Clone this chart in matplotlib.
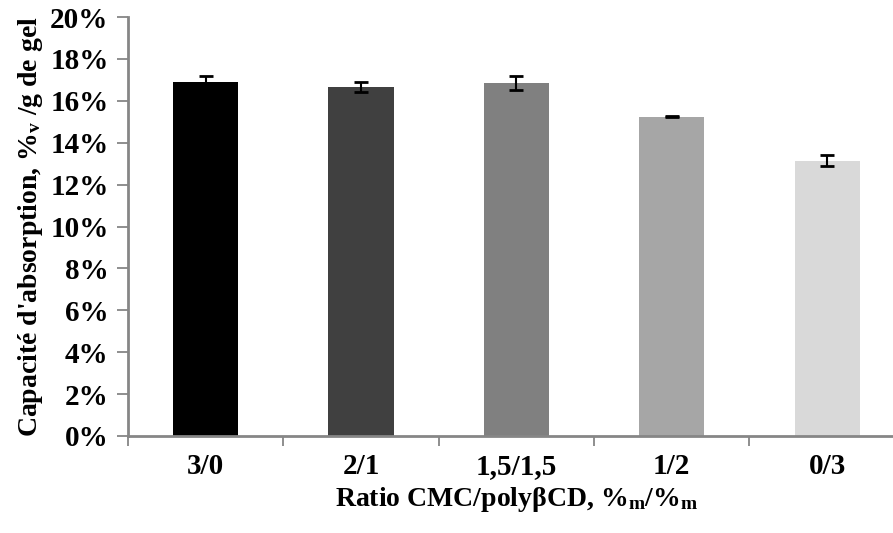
# Capacité d'absorption vs ratio CMC/polyβCD
import numpy as np
import matplotlib.pyplot as plt
from matplotlib.ticker import FuncFormatter

plt.rcParams['font.family'] = ['Liberation Serif', 'DejaVu Serif']
plt.rcParams['font.weight'] = 'bold'
plt.rcParams['axes.labelweight'] = 'bold'
plt.rcParams['mathtext.fontset'] = 'custom'
plt.rcParams['mathtext.rm'] = 'Liberation Serif:bold'
plt.rcParams['mathtext.it'] = 'Liberation Serif:bold'
plt.rcParams['mathtext.bf'] = 'Liberation Serif:bold'

ratios = ['3/0', '2/1', '1,5/1,5', '1/2', '0/3']
capacite = [16.9, 16.65, 16.85, 15.25, 13.15]     # %
erreur = [0.27, 0.25, 0.35, 0.03, 0.25]
couleurs = ['#000000', '#404040', '#808080', '#a6a6a6', '#d9d9d9']

axe_gris = '#868686'

fig = plt.figure(figsize=(8.93, 5.33), dpi=100)
ax = fig.add_axes([0.1433, 0.182, 0.870, 0.786])

x = np.arange(len(ratios))
ax.bar(x, capacite, width=0.42, color=couleurs, zorder=2)
ax.errorbar(x, capacite, yerr=erreur, fmt='none', ecolor='black',
            elinewidth=1.5, capsize=5, capthick=2, zorder=3)

ax.set_xlim(-0.5, len(ratios) - 0.5)
ax.set_ylim(0, 20)
ax.set_yticks(np.arange(0, 21, 2))
ax.yaxis.set_major_formatter(FuncFormatter(lambda v, p: '{0:.0f}%'.format(v)))

ax.set_xticks(x)
ax.set_xticklabels(ratios)
ax.set_xticks(np.arange(-0.5, len(ratios), 1.0), minor=True)
ax.tick_params(axis='x', which='major', length=0, pad=12, labelsize=21)
ax.tick_params(axis='x', which='minor', length=7, width=1.3, color=axe_gris, direction='out')
ax.tick_params(axis='y', length=8, width=1.3, color=axe_gris, direction='out', pad=6, labelsize=21)

for side in ['top', 'right']:
    ax.spines[side].set_visible(False)
for side in ['left', 'bottom']:
    ax.spines[side].set_color(axe_gris)
    ax.spines[side].set_linewidth(2)

ax.set_xlabel(r'Ratio CMC/polyβCD, %$_\mathrm{m}$/%$_\mathrm{m}$', fontsize=20, labelpad=4)
ax.set_ylabel(r"Capacité d'absorption, %$_\mathrm{v}$ /g de gel", fontsize=20, labelpad=4)

fig.savefig('out.png', dpi=100)
